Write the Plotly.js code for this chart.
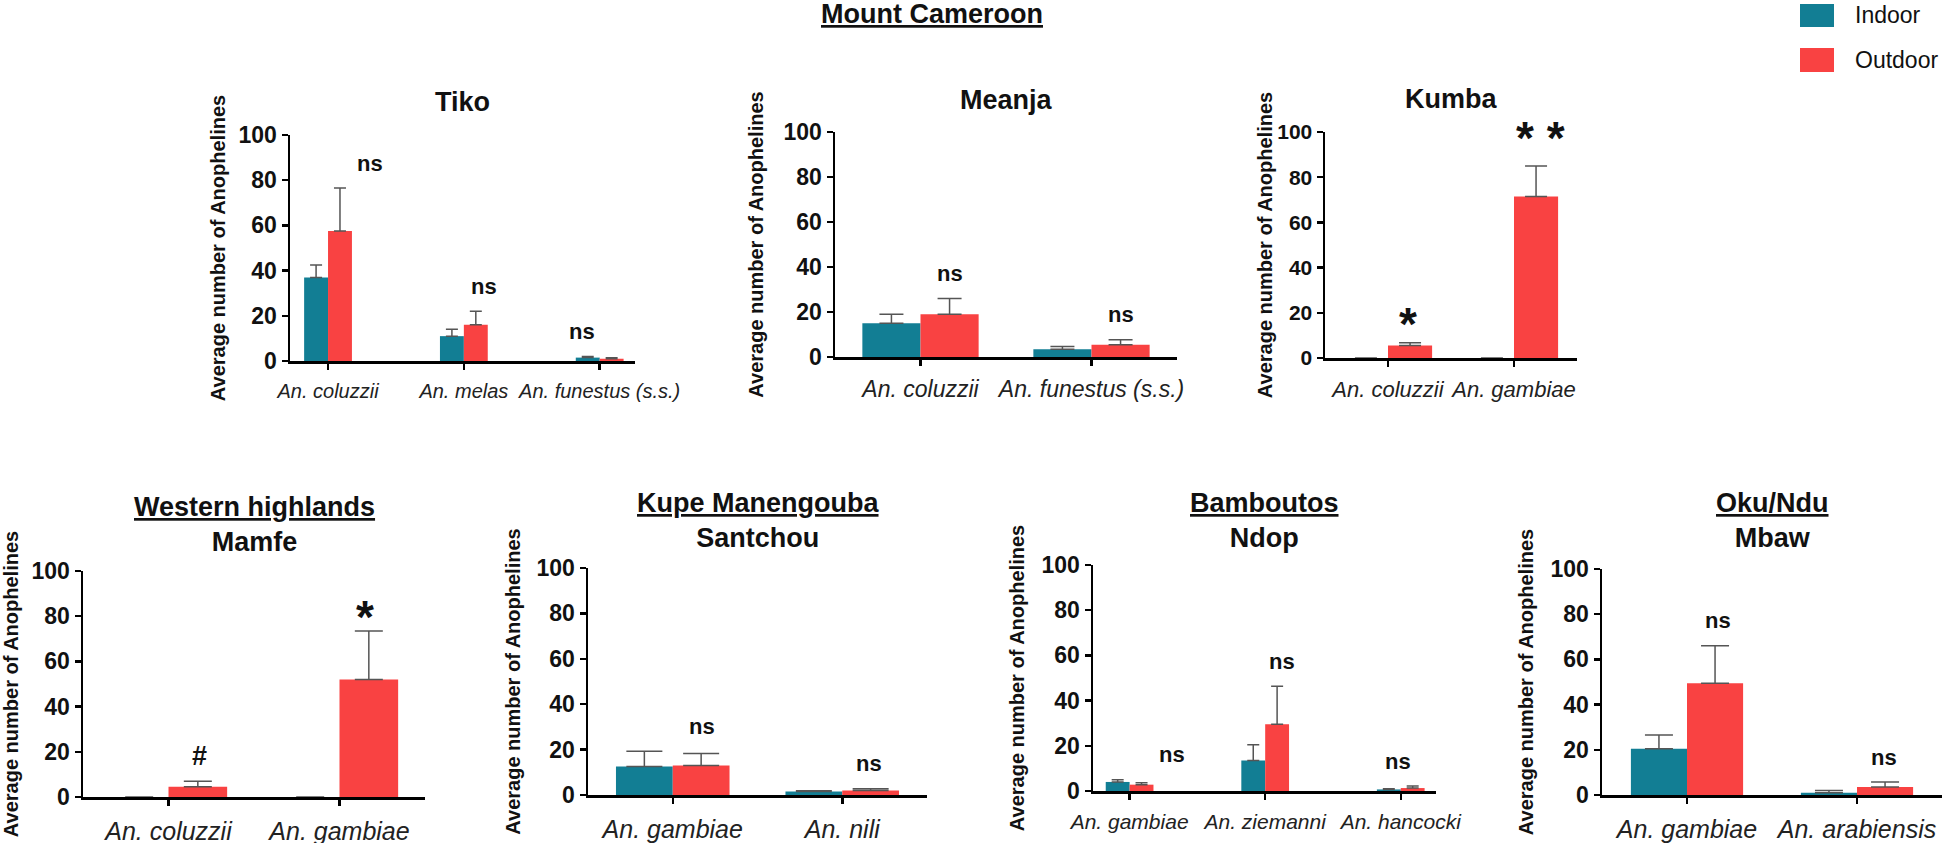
<!DOCTYPE html>
<html>
<head>
<meta charset="utf-8">
<script src="https://cdn.plot.ly/plotly-3.0.1.min.js"></script>
<style>
html, body {margin:0; padding:0; background:#fff;}
#chart {width:1946px; height:843px;}
</style>
</head>
<body>
<div id="chart"></div>
<script>
// ---- values (average number of Anophelines, mean + SE) ----
var seriesNames = ["Indoor", "Outdoor"];

var tikoSpecies = ["An. coluzzii", "An. melas", "An. funestus (s.s.)"];
var tikoIndoor = [37, 11, 1.5];
var tikoIndoorErr = [5.5, 3, 0.5];
var tikoOutdoor = [57.5, 16, 1];
var tikoOutdoorErr = [19, 6, 0.4];
var tikoSig = ["ns", "ns", "ns"];

var meanjaSpecies = ["An. coluzzii", "An. funestus (s.s.)"];
var meanjaIndoor = [15, 3.5];
var meanjaIndoorErr = [4, 1.2];
var meanjaOutdoor = [19, 5.5];
var meanjaOutdoorErr = [7, 2.2];
var meanjaSig = ["ns", "ns"];

var kumbaSpecies = ["An. coluzzii", "An. gambiae"];
var kumbaIndoor = [0, 0];
var kumbaIndoorErr = [0, 0];
var kumbaOutdoor = [5.5, 71.5];
var kumbaOutdoorErr = [1.2, 13.5];
var kumbaSig = ["*", "* *"];

var mamfeSpecies = ["An. coluzzii", "An. gambiae"];
var mamfeIndoor = [0, 0];
var mamfeIndoorErr = [0, 0];
var mamfeOutdoor = [4.5, 52];
var mamfeOutdoorErr = [2.5, 21.5];
var mamfeSig = ["#", "*"];

var santchouSpecies = ["An. gambiae", "An. nili"];
var santchouIndoor = [12.5, 1.5];
var santchouIndoorErr = [6.8, 0.4];
var santchouOutdoor = [13, 2];
var santchouOutdoorErr = [5.3, 0.7];
var santchouSig = ["ns", "ns"];

var ndopSpecies = ["An. gambiae", "An. ziemanni", "An. hancocki"];
var ndopIndoor = [4, 13.5, 0.7];
var ndopIndoorErr = [1, 7, 0.3];
var ndopOutdoor = [2.8, 29.5, 1.3];
var ndopOutdoorErr = [0.9, 16.8, 0.9];
var ndopSig = ["ns", "ns", "ns"];

var mbawSpecies = ["An. gambiae", "An. arabiensis"];
var mbawIndoor = [20.5, 1];
var mbawIndoorErr = [6, 1];
var mbawOutdoor = [49.5, 3.5];
var mbawOutdoorErr = [16.5, 2.2];
var mbawSig = ["ns", "ns"];

// ---- look ----
var W = 1946, H = 843;
var indoorColor = "#127e94";
var outdoorColor = "#f94242";
var errColor = "#555555";
var font = "Liberation Sans, Arial, sans-serif";
var yTitle = "Average number of Anophelines";

function px(x) { return x / W; }
function py(y) { return 1 - y / H; }

// box = [left, right, top, bottom] of each plot area in pixels
var panels = [
  {title: "Tiko", species: tikoSpecies, indoor: tikoIndoor, indoorErr: tikoIndoorErr, outdoor: tikoOutdoor, outdoorErr: tikoOutdoorErr, sig: tikoSig,
   box: [290, 635, 135, 361], range: [-0.28, 2.26], barW: 0.176, cap: 6, tickSize: 20, ySize: 23,
   sigShift: [0.31, 0.15, -0.13], sigGap: [11, 11, 11], sigLift: [0, 0, 0], titleY: 102, standoff: 8},
  {title: "Meanja", species: meanjaSpecies, indoor: meanjaIndoor, indoorErr: meanjaIndoorErr, outdoor: meanjaOutdoor, outdoorErr: meanjaOutdoorErr, sig: meanjaSig,
   box: [835, 1177, 132, 357], range: [-0.5, 1.5], barW: 0.34, cap: 12, tickSize: 23, ySize: 23,
   sigShift: [0.17, 0.17], sigGap: [11, 11], sigLift: [0, 0], titleY: 100, standoff: 15},
  {title: "Kumba", species: kumbaSpecies, indoor: kumbaIndoor, indoorErr: kumbaIndoorErr, outdoor: kumbaOutdoor, outdoorErr: kumbaOutdoorErr, sig: kumbaSig,
   box: [1325, 1577, 132, 358], range: [-0.5, 1.5], barW: 0.35, cap: 11, tickSize: 22, ySize: 21,
   sigShift: [0.16, 0.21], sigGap: [13, 14], sigLift: [0, 7], titleY: 99, standoff: 0},
  {title: "<u>Western highlands</u><br>Mamfe", species: mamfeSpecies, indoor: mamfeIndoor, indoorErr: mamfeIndoorErr, outdoor: mamfeOutdoor, outdoorErr: mamfeOutdoorErr, sig: mamfeSig,
   box: [83, 425, 571, 797], range: [-0.5, 1.5], barW: 0.343, cap: 14, tickSize: 25, ySize: 23,
   sigShift: [0.18, 0.15], sigGap: [11, 11], sigLift: [0, 0], titleY: 524, standoff: 12},
  {title: "<u>Kupe Manengouba</u><br>Santchou", species: santchouSpecies, indoor: santchouIndoor, indoorErr: santchouIndoorErr, outdoor: santchouOutdoor, outdoorErr: santchouOutdoorErr, sig: santchouSig,
   box: [588, 927, 568, 795], range: [-0.5, 1.5], barW: 0.335, cap: 18, tickSize: 25, ySize: 23,
   sigShift: [0.17, 0.16], sigGap: [11, 11], sigLift: [0, 0], titleY: 520, standoff: 11},
  {title: "<u>Bamboutos</u><br>Ndop", species: ndopSpecies, indoor: ndopIndoor, indoorErr: ndopIndoorErr, outdoor: ndopOutdoor, outdoorErr: ndopOutdoorErr, sig: ndopSig,
   box: [1093, 1436, 565, 791], range: [-0.27, 2.26], barW: 0.176, cap: 6, tickSize: 21, ySize: 23,
   sigShift: [0.31, 0.125, -0.02], sigGap: [11, 11, 11], sigLift: [0, 0, 0], titleY: 520, standoff: 12},
  {title: "<u>Oku/Ndu</u><br>Mbaw", species: mbawSpecies, indoor: mbawIndoor, indoorErr: mbawIndoorErr, outdoor: mbawOutdoor, outdoorErr: mbawOutdoorErr, sig: mbawSig,
   box: [1602, 1942, 569, 795], range: [-0.5, 1.5], barW: 0.33, cap: 14, tickSize: 25, ySize: 23,
   sigShift: [0.18, 0.16], sigGap: [11, 11], sigLift: [0, 0], titleY: 520, standoff: 12}
];

var data = [];
var layout = {
  width: W, height: H,
  margin: {l: 0, r: 0, t: 0, b: 0},
  paper_bgcolor: "#ffffff",
  plot_bgcolor: "rgba(0,0,0,0)",
  showlegend: false,
  barmode: "group",
  annotations: [],
  shapes: []
};

// upper error bar only; none for empty (zero) bars
function errBar(vals, err, cap) {
  return {type: "data", symmetric: false,
          array: err.map(function(e, i) { return (vals[i] === 0 && e === 0) ? NaN : e; }),
          arrayminus: err.map(function() { return 0; }),
          color: errColor, thickness: 1.5, width: cap};
}

panels.forEach(function(p, k) {
  var n = k === 0 ? "" : String(k + 1);
  var xa = "x" + n, ya = "y" + n;

  data.push({type: "bar", name: seriesNames[0], x: p.species, y: p.indoor, xaxis: xa, yaxis: ya,
             width: p.barW, offset: -p.barW, marker: {color: indoorColor, line: {width: 0}},
             error_y: errBar(p.indoor, p.indoorErr, p.cap), hoverinfo: "skip"});
  data.push({type: "bar", name: seriesNames[1], x: p.species, y: p.outdoor, xaxis: xa, yaxis: ya,
             width: p.barW, offset: 0, marker: {color: outdoorColor, line: {width: 0}},
             error_y: errBar(p.outdoor, p.outdoorErr, p.cap), hoverinfo: "skip"});

  layout["xaxis" + n] = {
    domain: [px(p.box[0]), px(p.box[1])], anchor: ya, type: "category", range: p.range,
    showline: true, linecolor: "#000", linewidth: 2.5,
    ticks: "outside", ticklen: 6, tickwidth: 2.5, tickcolor: "#000", tickangle: 0,
    tickfont: {family: font, size: p.tickSize, style: "italic", color: "#222"},
    ticklabelstandoff: 4, showgrid: false, zeroline: false, fixedrange: true
  };
  layout["yaxis" + n] = {
    domain: [py(p.box[3]), py(p.box[2])], anchor: xa, range: [0, 100], tick0: 0, dtick: 20,
    showline: true, linecolor: "#000", linewidth: 2.5,
    ticks: "outside", ticklen: 6, tickwidth: 2.5, tickcolor: "#000",
    tickfont: {family: font, size: p.ySize, weight: 700, color: "#111"},
    showgrid: false, zeroline: false, fixedrange: true,
    title: {text: yTitle, font: {family: font, size: 20, weight: 700, color: "#111"}, standoff: p.standoff}
  };

  // panel title
  layout.annotations.push({
    text: p.title, xref: "paper", yref: "paper",
    x: px((p.box[0] + p.box[1]) / 2), y: py(p.titleY), xanchor: "center", yanchor: "middle",
    showarrow: false, font: {family: font, size: 27, weight: 700, color: "#111"}
  });

  // significance marks above each species (kept inside the 0-100 range so they stay visible)
  p.species.forEach(function(s, i) {
    var top = Math.max(p.indoor[i] + p.indoorErr[i], p.outdoor[i] + p.outdoorErr[i]);
    var lab = p.sig[i];
    var star = lab.indexOf("*") >= 0;
    var fs = star ? 46 : (lab === "#" ? 27 : 22);
    layout.annotations.push({
      text: "<b>" + lab + "</b>", xref: xa, yref: ya,
      x: i + p.sigShift[i], y: Math.min(top + p.sigGap[i], 99.5), xanchor: "center", yanchor: "middle",
      yshift: (star ? -11 : 0) + p.sigLift[i], showarrow: false,
      font: {family: font, size: fs, color: "#111"}
    });
  });
});

// region heading of the top row
layout.annotations.push({
  text: "<u>Mount Cameroon</u>", xref: "paper", yref: "paper", x: px(932), y: py(14),
  xanchor: "center", yanchor: "middle", showarrow: false,
  font: {family: font, size: 27, weight: 700, color: "#111"}
});

// legend drawn as boxes + text like the original
[[seriesNames[0], indoorColor, 4, 27], [seriesNames[1], outdoorColor, 48, 72]].forEach(function(l) {
  layout.shapes.push({type: "rect", xref: "paper", yref: "paper",
    x0: px(1800), x1: px(1834), y0: py(l[3]), y1: py(l[2]),
    fillcolor: l[1], line: {width: 0}});
  layout.annotations.push({text: l[0], xref: "paper", yref: "paper",
    x: px(1853), y: py((l[2] + l[3]) / 2), xanchor: "left", yanchor: "middle", showarrow: false,
    font: {family: font, size: 23, color: "#111"}});
});

Plotly.newPlot("chart", data, layout, {displayModeBar: false, staticPlot: true});
</script>
</body>
</html>
